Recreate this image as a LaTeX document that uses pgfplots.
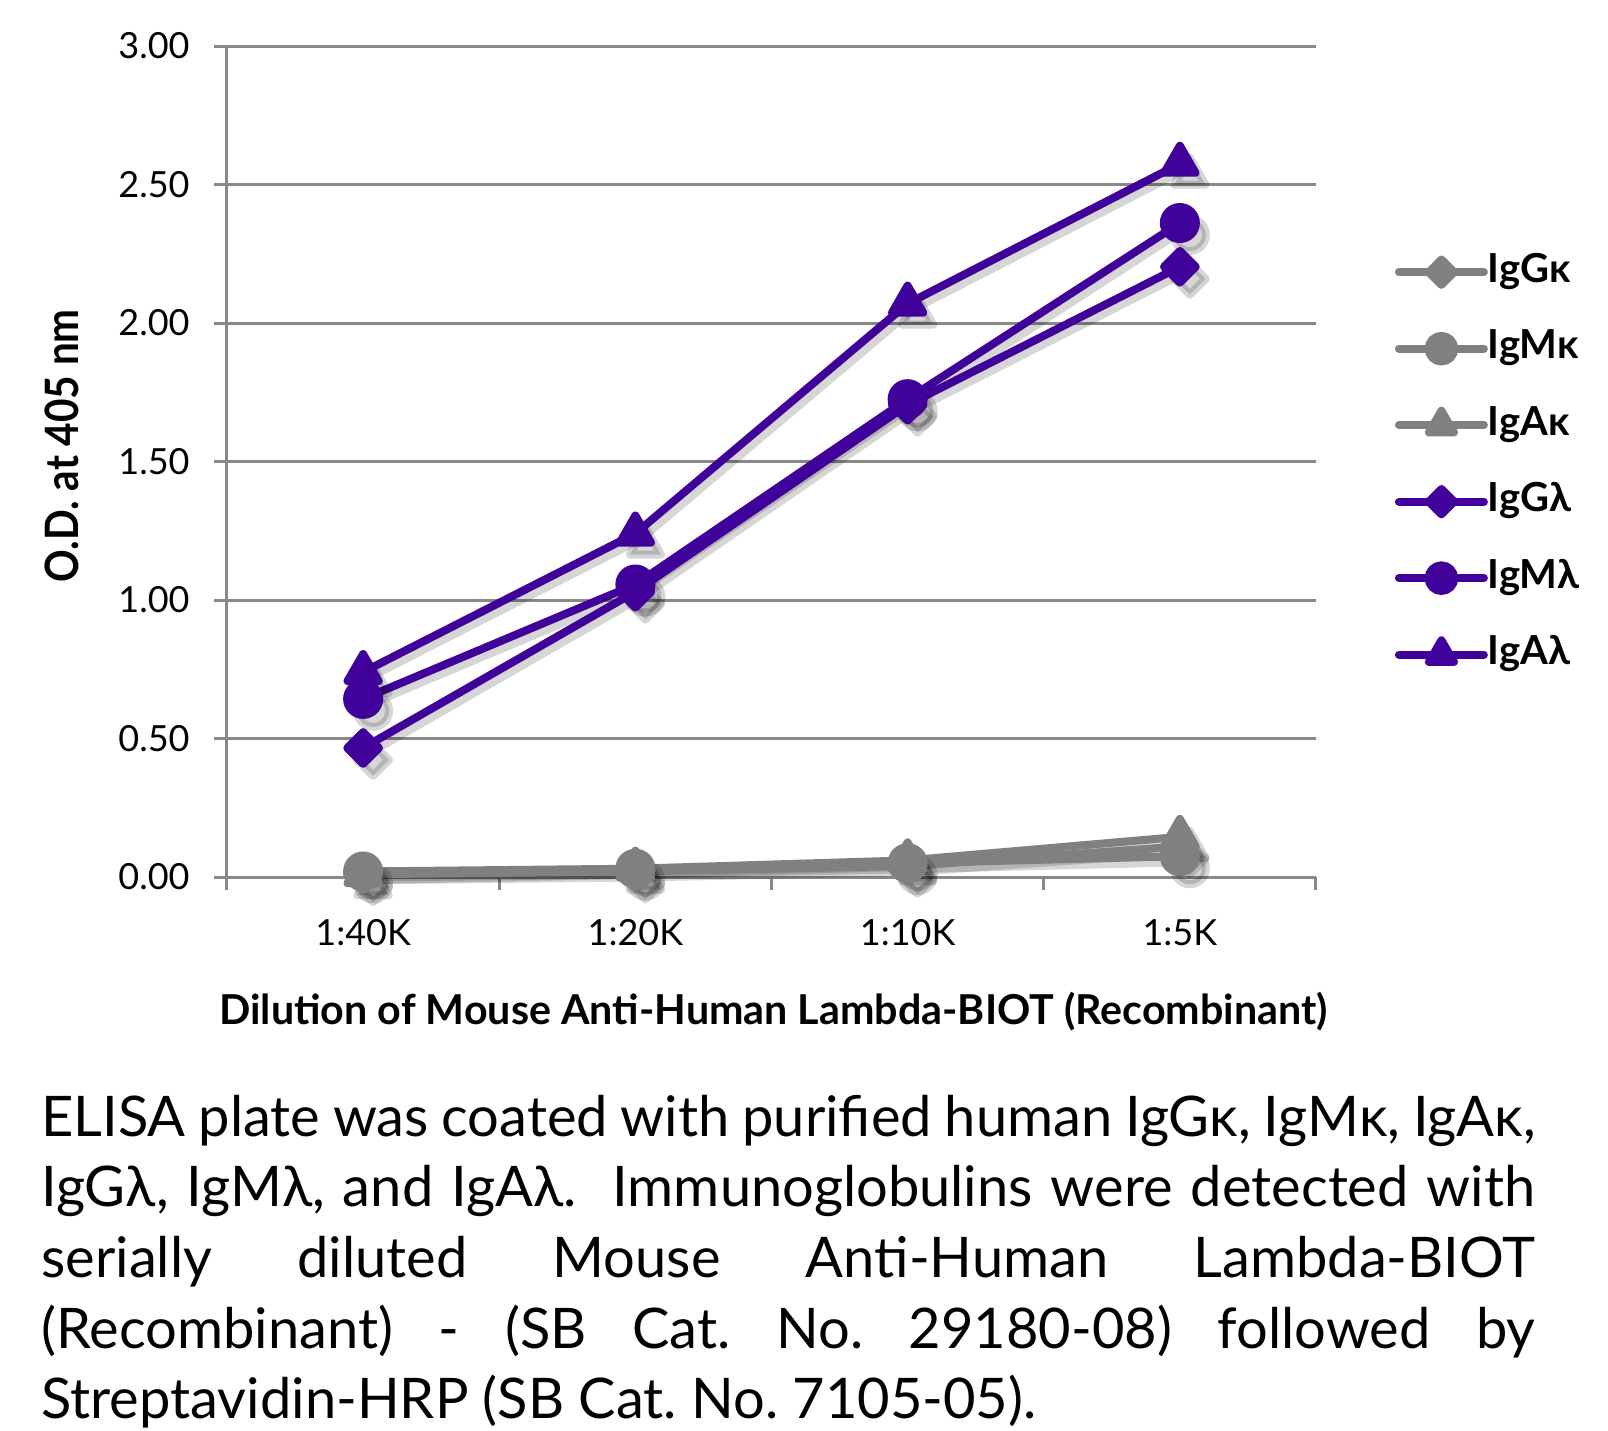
\documentclass[border=0pt]{standalone}
\usepackage{pgfplots}
\usepackage{pgfplotstable}
\pgfplotsset{compat=1.18}
\usepackage{fontspec}
\setmainfont{Lato}
\newfontfamily\condfont[FakeStretch=0.88]{Lato}
\definecolor{lampurple}{HTML}{40009A}
\definecolor{kgray}{HTML}{808080}
\definecolor{gridgray}{HTML}{888888}
\pgfplotstableread{
x gk mk ak gl ml al
0 0.01 0.02 0.01 0.466 0.643 0.74
1 0.02 0.03 0.03 1.03 1.056 1.24
2 0.04 0.05 0.06 1.705 1.725 2.07
3 0.11 0.075 0.145 2.203 2.361 2.575
}\datatab
\pgfplotsset{
  shadowplot/.style={black, opacity=0.16, forget plot, transform canvas={xshift=2.5pt, yshift=-3pt}},
}
\begin{document}
\begin{tikzpicture}
\useasboundingbox (0,0) rectangle (804pt,-715.5pt);
\begin{axis}[
  at={(113.5pt,-438.5pt)}, anchor=south west,
  scale only axis, width=544.5pt, height=415.5pt,
  xmin=-0.5, xmax=3.5, ymin=0, ymax=3,
  axis lines*=left,
  axis line style={gridgray, line width=1.5pt},
  xtick={-0.5,0.5,1.5,2.5,3.5},
  x tick label as interval,
  xticklabels={1:40K,1:20K,1:10K,1:5K},
  ytick={0,0.5,1,1.5,2,2.5,3},
  /pgf/number format/assume math mode=true,
  tick label style={font=\fontsize{18}{18}\selectfont},
  xticklabel style={yshift=-11.3pt},
  yticklabel style={xshift=-8.7pt, /pgf/number format/.cd, fixed, fixed zerofill, precision=2},
  tick align=outside,
  major tick length=6.5pt,
  tick style={gridgray, line width=1.5pt},
  ymajorgrids,
  grid style={gridgray, line width=1.5pt},
  every axis x label/.style={at={(axis description cs:0.5018,-0.162)}, anchor=center, font=\fontsize{20.6}{20.6}\selectfont\bfseries},
  every axis y label/.style={at={(axis description cs:-0.152,0.519)}, anchor=center, rotate=90, font=\fontsize{23}{23}\selectfont\condfont\bfseries},
  xlabel={Dilution of Mouse Anti-Human Lambda-BIOT (Recombinant)},
  ylabel={O.D. at 405 nm},
  legend style={draw=none, fill=none, at={(1.0725,0.7495)}, anchor=north west,
    inner sep=0pt, outer sep=0pt, row sep=20.25pt,
    nodes={font=\fontsize{20}{20}\selectfont\bfseries, inner sep=0pt, text height=14pt, text depth=4pt},
    /tikz/every even column/.append style={column sep=3pt}},
  legend cell align=left,
  legend image code/.code={\draw[mark repeat=2, mark phase=2, #1, every mark/.append style={scale=0.8}]
     plot coordinates {(0pt,0pt) (21.25pt,0pt) (42.5pt,0pt)};},
  every axis plot/.append style={line width=4pt, line cap=round, line join=round},
  clip=false,
]
% shadows
\addplot[shadowplot, mark=square*, mark options={rotate=45}, mark size=5.6pt] table[x=x, y=gk]{\datatab};
\addplot[shadowplot, mark=*, mark size=8pt] table[x=x, y=mk]{\datatab};
\addplot[shadowplot, mark=triangle*, mark size=9pt] table[x=x, y=ak]{\datatab};
\addplot[shadowplot, mark=square*, mark options={rotate=45}, mark size=5.6pt] table[x=x, y=gl]{\datatab};
\addplot[shadowplot, mark=*, mark size=8pt] table[x=x, y=ml]{\datatab};
\addplot[shadowplot, mark=triangle*, mark size=9pt] table[x=x, y=al]{\datatab};
% series
\addplot[kgray, mark=square*, mark options={rotate=45}, mark size=5.6pt] table[x=x, y=gk]{\datatab};
\addlegendentry{IgGκ}
\addplot[kgray, mark=*, mark size=8pt] table[x=x, y=mk]{\datatab};
\addlegendentry{IgMκ}
\addplot[kgray, mark=triangle*, mark size=9pt] table[x=x, y=ak]{\datatab};
\addlegendentry{IgAκ}
\addplot[lampurple, mark=square*, mark options={rotate=45}, mark size=5.6pt] table[x=x, y=gl]{\datatab};
\addlegendentry{IgGλ}
\addplot[lampurple, mark=*, mark size=8pt] table[x=x, y=ml]{\datatab};
\addlegendentry{IgMλ}
\addplot[lampurple, mark=triangle*, mark size=9pt] table[x=x, y=al]{\datatab};
\addlegendentry{IgAλ}
\end{axis}
\node[anchor=base west, inner sep=0pt] at (20.5pt,-568pt) {\parbox[t]{747pt}{\fontsize{28}{35.35}\selectfont\frenchspacing
ELISA plate was coated with purified human IgGκ, IgMκ, IgAκ,\linebreak
IgGλ, IgMλ, and IgAλ.\ \ Immunoglobulins were detected with\linebreak
serially diluted Mouse Anti-Human Lambda-BIOT\linebreak
(Recombinant) - (SB Cat. No. 29180-08) followed by\linebreak
Streptavidin-HRP (SB Cat. No. 7105-05).}};
\end{tikzpicture}
\end{document}
